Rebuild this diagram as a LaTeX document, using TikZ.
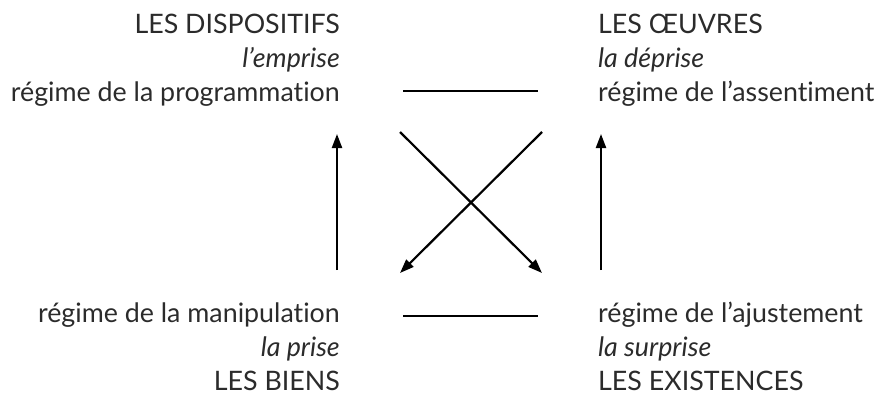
\documentclass[tikz,border=0pt]{standalone}
\usepackage{fontspec}
\setmainfont[Ligatures={NoCommon, NoContextual}]{Lato}
\usetikzlibrary{arrows.meta}
\definecolor{texte}{HTML}{2B2B2B}
\tikzset{
	bloc/.style={inner sep=0pt, text=texte, font=\fontsize{26.8}{34}\selectfont},
	fleche/.style={line width=2.2pt, -{Triangle[length=14pt, width=10pt]}},
	trait/.style={line width=2.2pt}
}
\begin{document}
\begin{tikzpicture}[x=1pt, y=-1pt]
	\useasboundingbox (0, 0) rectangle (880, 394);
	% les quatre coins
	\node[bloc, align=right, anchor=base east] (disp) at (340, 101) {LES DISPOSITIFS\\\textit{l’emprise}\\régime de la programmation};
	\node[bloc, align=left, anchor=base west] (oeuv) at (598, 101) {LES ŒUVRES\\\textit{la déprise}\\régime de l’assentiment};
	\node[bloc, align=right, anchor=base east] (bien) at (340, 390) {régime de la manipulation\\\textit{la prise}\\LES BIENS};
	\node[bloc, align=left, anchor=base west] (exis) at (598, 390) {régime de l’ajustement\\\textit{la surprise}\\LES EXISTENCES};
	% extremites des traits
	\coordinate (h1) at (403, 91);
	\coordinate (h2) at (538, 91);
	\coordinate (b1) at (403, 316);
	\coordinate (b2) at (538, 316);
	\coordinate (g1) at (337, 270);
	\coordinate (g2) at (337, 134);
	\coordinate (d1) at (601, 270);
	\coordinate (d2) at (601, 134);
	\coordinate (x1) at (400, 132);
	\coordinate (x2) at (542, 273);
	\coordinate (x3) at (542, 132);
	\coordinate (x4) at (400, 273);
	\draw[trait] (h1) -- (h2);
	\draw[trait] (b1) -- (b2);
	\draw[fleche] (g1) -- (g2);
	\draw[fleche] (d1) -- (d2);
	\draw[fleche] (x1) -- (x2);
	\draw[fleche] (x3) -- (x4);
\end{tikzpicture}
\end{document}
